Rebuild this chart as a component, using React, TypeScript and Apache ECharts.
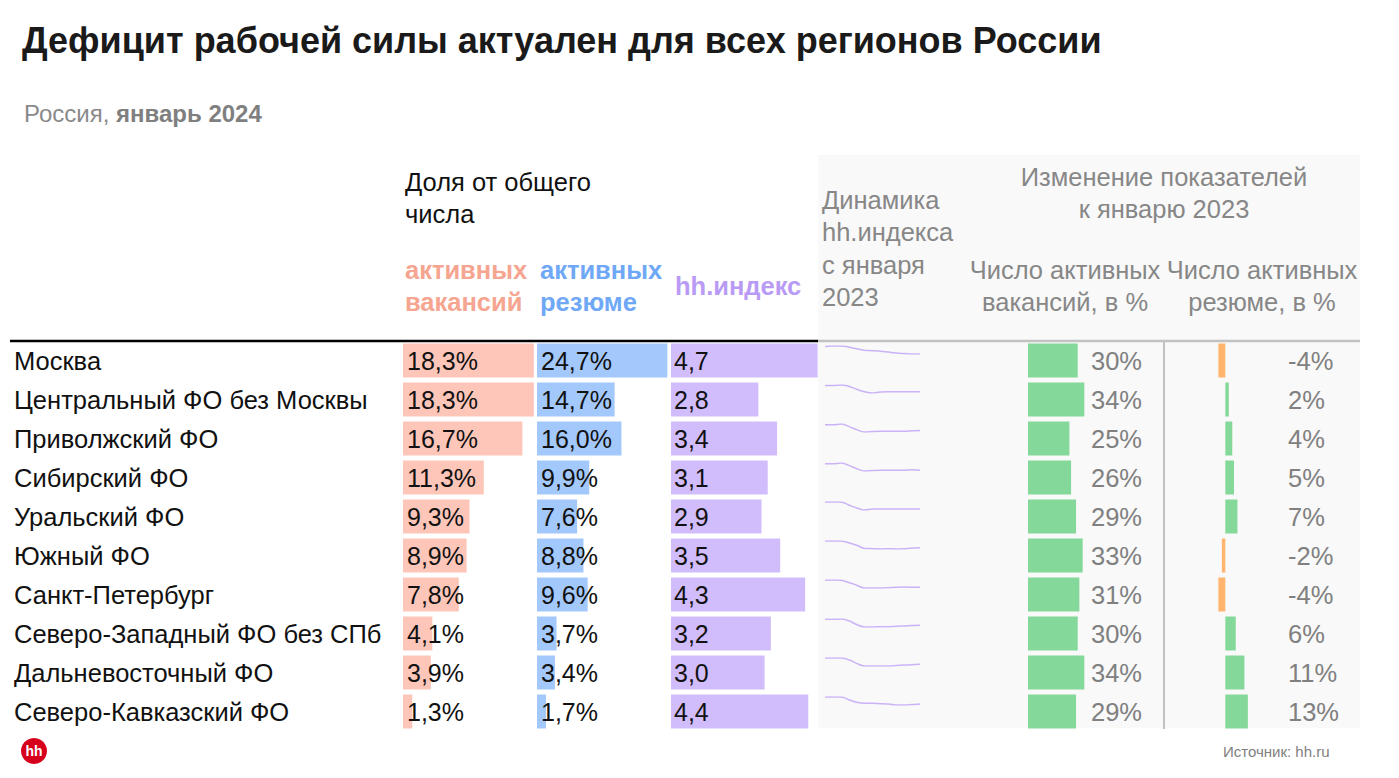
import React, { useEffect, useRef } from "react";
import * as echarts from "echarts";

const regions = [
  "Москва",
  "Центральный ФО без Москвы",
  "Приволжский ФО",
  "Сибирский ФО",
  "Уральский ФО",
  "Южный ФО",
  "Санкт-Петербург",
  "Северо-Западный ФО без СПб",
  "Дальневосточный ФО",
  "Северо-Кавказский ФО",
];
const vacancyShare = [18.3, 18.3, 16.7, 11.3, 9.3, 8.9, 7.8, 4.1, 3.9, 1.3];
const resumeShare = [24.7, 14.7, 16.0, 9.9, 7.6, 8.8, 9.6, 3.7, 3.4, 1.7];
const hhIndex = [4.7, 2.8, 3.4, 3.1, 2.9, 3.5, 4.3, 3.2, 3.0, 4.4];
const vacancyChange = [30, 34, 25, 26, 29, 33, 31, 30, 34, 29];
const resumeChange = [-4, 2, 4, 5, 7, -2, -4, 6, 11, 13];
const months = [
  "янв 2023", "фев 2023", "мар 2023", "апр 2023", "май 2023", "июн 2023", "июл 2023",
  "авг 2023", "сен 2023", "окт 2023", "ноя 2023", "дек 2023", "янв 2024",
];
const dynMoscow = [6.3, 6.4, 6.4, 6.2, 5.8, 5.5, 5.4, 5.3, 5.1, 4.9, 4.8, 4.7, 4.7];
const dynCentral = [3.8, 3.8, 3.9, 3.7, 3.2, 2.8, 2.6, 2.75, 2.8, 2.8, 2.8, 2.8, 2.8];
const dynVolga = [4.2, 4.2, 4.3, 4.0, 3.6, 3.3, 3.35, 3.4, 3.4, 3.4, 3.4, 3.45, 3.5];
const dynSiberia = [3.9, 3.9, 4.0, 3.7, 3.3, 3.0, 3.05, 3.1, 3.1, 3.1, 3.1, 3.15, 3.1];
const dynUral = [3.6, 3.6, 3.6, 3.3, 3.0, 2.8, 2.9, 2.9, 2.9, 2.9, 2.9, 2.9, 2.9];
const dynSouth = [4.6, 4.6, 4.6, 4.3, 3.9, 3.4, 3.35, 3.3, 3.35, 3.3, 3.35, 3.45, 3.5];
const dynSpb = [5.3, 5.35, 5.3, 5.0, 4.6, 4.2, 4.2, 4.2, 4.25, 4.3, 4.35, 4.3, 4.3];
const dynNorthWest = [4.0, 4.0, 4.05, 3.8, 3.3, 2.95, 2.95, 3.0, 3.0, 3.05, 3.1, 3.15, 3.2];
const dynFarEast = [3.7, 3.7, 3.7, 3.5, 3.1, 2.8, 2.8, 2.8, 2.8, 2.85, 2.9, 2.95, 3.0];
const dynCaucasus = [5.2, 5.2, 5.2, 4.9, 4.6, 4.5, 4.5, 4.45, 4.4, 4.3, 4.3, 4.35, 4.4];
const hhDynamics = [
  dynMoscow, dynCentral, dynVolga, dynSiberia, dynUral,
  dynSouth, dynSpb, dynNorthWest, dynFarEast, dynCaucasus,
];

const FONT = "'Liberation Sans', Arial, sans-serif";
const ROW_TOP = 341;
const ROW_H = 39;
const N = regions.length;
const FS = 25.5;
const fmt1 = (v: number) => v.toFixed(1).replace(".", ",");

export default function App() {
  const ref = useRef<HTMLDivElement>(null);
  useEffect(() => {
    if (!ref.current) return;
    const chart = echarts.init(ref.current, null, { renderer: "svg" });
    const tableH = ROW_H * N;

    const grids: any[] = [
      { left: 403, top: ROW_TOP, width: 143, height: tableH },
      { left: 537, top: ROW_TOP, width: 132, height: tableH },
      { left: 671, top: ROW_TOP, width: 156, height: tableH },
      { left: 1028, top: ROW_TOP, width: 58, height: tableH },
      { left: 1208, top: ROW_TOP, width: 52, height: tableH },
    ];
    const xMax = [20, 25, 5, 35, 20];
    const xMin = [0, 0, 0, 0, -10];
    const xAxes: any[] = grids.map((_, i) => ({
      type: "value", gridIndex: i, min: xMin[i], max: xMax[i], show: false,
    }));
    const hiddenCat = (i: number) => ({
      type: "category", gridIndex: i, data: regions, inverse: true,
      axisLine: { show: false }, axisTick: { show: false }, splitLine: { show: false },
    });
    const yAxes: any[] = [
      {
        ...hiddenCat(0),
        axisLabel: { margin: 389, align: "left", fontSize: FS, color: "#111", fontFamily: FONT },
      },
      { ...hiddenCat(1), axisLabel: { show: false } },
      { ...hiddenCat(2), axisLabel: { show: false } },
      {
        ...hiddenCat(3), position: "right",
        axisLabel: {
          margin: 5, align: "left", fontSize: FS, color: "#808080", fontFamily: FONT,
          formatter: (_v: string, i: number) => vacancyChange[i] + "%",
        },
      },
      {
        ...hiddenCat(4), position: "right",
        axisLabel: {
          margin: 28, align: "left", fontSize: FS, color: "#808080", fontFamily: FONT,
          formatter: (_v: string, i: number) => resumeChange[i] + "%",
        },
      },
    ];
    const series: any[] = [];
    const shareLabel = (f: (v: number) => string, dist: number) => ({
      show: true, position: "insideLeft", distance: dist, color: "#111",
      fontSize: 25, fontFamily: FONT,
      formatter: (p: any) => f(p.value),
    });
    series.push({
      type: "bar", xAxisIndex: 0, yAxisIndex: 0, data: vacancyShare, barWidth: 34,
      itemStyle: { color: "#fdc6b9" }, label: shareLabel((v) => fmt1(v) + "%", 4),
    });
    series.push({
      type: "bar", xAxisIndex: 1, yAxisIndex: 1, data: resumeShare, barWidth: 34,
      itemStyle: { color: "#a3c8fb" }, label: shareLabel((v) => fmt1(v) + "%", 4),
    });
    series.push({
      type: "bar", xAxisIndex: 2, yAxisIndex: 2, data: hhIndex, barWidth: 34,
      itemStyle: { color: "#d1bdfb" }, label: shareLabel((v) => fmt1(v), 3),
    });
    series.push({
      type: "bar", xAxisIndex: 3, yAxisIndex: 3, data: vacancyChange, barWidth: 34,
      itemStyle: { color: "#84d99a" },
    });
    series.push({
      type: "bar", xAxisIndex: 4, yAxisIndex: 4, data: resumeChange, barWidth: 34,
      itemStyle: { color: (p: any) => (p.value < 0 ? "#ffb56e" : "#84d99a") },
    });

    hhDynamics.forEach((d, i) => {
      const gi = 5 + i;
      grids.push({ left: 825, width: 95, top: ROW_TOP + ROW_H * i + 5, height: 8 });
      xAxes.push({ type: "category", gridIndex: gi, data: months, boundaryGap: false, show: false });
      yAxes.push({ type: "value", gridIndex: gi, min: "dataMin", max: "dataMax", show: false, scale: true });
      series.push({
        type: "line", xAxisIndex: gi, yAxisIndex: gi, data: d, showSymbol: false,
        smooth: 0.4, lineStyle: { color: "#b894f7", width: 1.5, opacity: 0.7 },
      });
    });

    const txt = (text: string, x: number, y: number, o: any = {}) => ({
      type: "text", x, y, z: 20,
      style: {
        text, fill: o.fill || "#111", fontSize: o.size || FS, fontFamily: FONT,
        fontWeight: o.weight || "normal", textAlign: o.align || "left",
        textVerticalAlign: "middle",
      },
    });
    const gray = "#878787";
    const graphic: any[] = [
      { type: "rect", z: -1, shape: { x: 818, y: 155, width: 542, height: 573 }, style: { fill: "#f9f9f9" } },
      { type: "line", z: 20, shape: { x1: 10, y1: 341, x2: 818, y2: 341 }, style: { stroke: "#000", lineWidth: 2.5 } },
      { type: "line", z: 20, shape: { x1: 818, y1: 341, x2: 1360, y2: 341 }, style: { stroke: "#c2c2c2", lineWidth: 2.5 } },
      { type: "line", z: 20, shape: { x1: 1164, y1: 342, x2: 1164, y2: 729 }, style: { stroke: "#c2c2c2", lineWidth: 2 } },
      txt("Дефицит рабочей силы актуален для всех регионов России", 22, 40, { size: 36, weight: "bold", fill: "#1a1a1a" }),
      {
        type: "text", x: 24, y: 113, z: 20,
        style: {
          text: "{a|Россия, }{b|январь 2024}", fontFamily: FONT, textVerticalAlign: "middle",
          rich: {
            a: { fontSize: 24, fill: "#8a8a8a", fontFamily: FONT },
            b: { fontSize: 24, fill: "#7f7f7f", fontWeight: "bold", fontFamily: FONT },
          },
        },
      },
      txt("Доля от общего", 405, 182),
      txt("числа", 405, 214),
      txt("активных", 405, 270, { fill: "#f6a590", weight: "bold" }),
      txt("вакансий", 405, 302, { fill: "#f6a590", weight: "bold" }),
      txt("активных", 540, 270, { fill: "#6fa8f7", weight: "bold" }),
      txt("резюме", 540, 302, { fill: "#6fa8f7", weight: "bold" }),
      txt("hh.индекс", 675, 286, { fill: "#b99bf6", weight: "bold" }),
      txt("Динамика", 822, 200, { fill: gray }),
      txt("hh.индекса", 822, 232, { fill: gray }),
      txt("с января", 822, 265, { fill: gray }),
      txt("2023", 822, 297, { fill: gray }),
      txt("Изменение показателей", 1164, 177, { fill: gray, align: "center" }),
      txt("к январю 2023", 1164, 209, { fill: gray, align: "center" }),
      txt("Число активных", 1065, 270, { fill: gray, align: "center" }),
      txt("вакансий, в %", 1065, 302, { fill: gray, align: "center" }),
      txt("Число активных", 1262, 270, { fill: gray, align: "center" }),
      txt("резюме, в %", 1262, 302, { fill: gray, align: "center" }),
      { type: "circle", z: 20, shape: { cx: 34, cy: 751, r: 13 }, style: { fill: "#d6001c" } },
      txt("hh", 34, 751, { fill: "#fff", weight: "bold", size: 14, align: "center" }),
      txt("Источник: hh.ru", 1223, 751, { fill: "#808080", size: 15 }),
    ];

    chart.setOption({
      animation: false,
      grid: grids,
      xAxis: xAxes,
      yAxis: yAxes,
      series,
      graphic,
    });
    return () => chart.dispose();
  }, []);
  return (
    <div
      ref={ref}
      style={{ position: "fixed", left: 0, top: 0, width: 1399, height: 778, background: "#fff" }}
    />
  );
}
